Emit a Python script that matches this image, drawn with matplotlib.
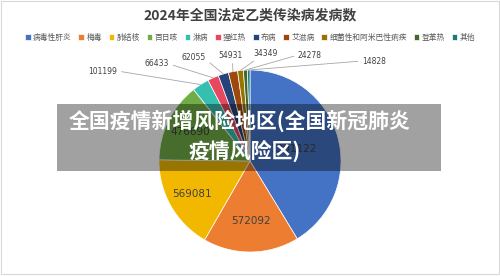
import matplotlib
matplotlib.use("Agg")
import matplotlib.pyplot as plt
import numpy as np
from matplotlib.patches import Rectangle

plt.rcParams['font.family'] = ['Noto Sans CJK SC', 'DejaVu Sans']

# donnees
categories = ['病毒性肝炎', '梅毒', '肺结核', '百日咳', '淋病', '猩红热', '布病', '艾滋病',
              '细菌性和阿米巴性痢疾', '登革热', '其他']
valeurs = [1391122, 572092, 569081, 476690, 101199, 66433, 62055, 54931, 34349, 24278, 14828]
couleurs = ['#4472C4', '#ED7D31', '#F2B800', '#70AD47', '#36BFB1', '#E8485F', '#264478',
            '#9E480E', '#997300', '#43682B', '#1E7A72']
titre = '2024年全国法定乙类传染病发病数'
bandeau_1 = '全国疫情新增风险地区(全国新冠肺炎'
bandeau_2 = '疫情风险区)'

# mise en page des etiquettes (pixels de l'image, origine en haut a gauche)
rayon_int = [0.50, 0.66, 0.73, 0.73]
pos_ext = [(103, 71), (157, 64), (194, 57), (230, 55), (266, 53), (310, 55), (374, 61)]
rel_ext = [(1, 0.5), (1, 0.5), (1, 0.2), (0.6, 0), (0.2, 0), (0, 0.5), (0, 0.5)]

W, H = 500, 276
fig = plt.figure(figsize=(W / 100, H / 100), dpi=100)
fig.patch.set_facecolor('white')
fig.patches.append(Rectangle((0.002, 0.008), 0.996, 0.99, transform=fig.transFigure,
                             fill=False, edgecolor='#d9d9d9', lw=0.8))

cx, cy, r = 250, 161, 91
ax = fig.add_axes([(cx - r) / W, (H - cy - r) / H, 2 * r / W, 2 * r / H])
wedges, _ = ax.pie(valeurs, colors=couleurs, startangle=90, counterclock=False, radius=1,
                   wedgeprops=dict(edgecolor='white', linewidth=0.5))
ax.set_xlim(-1, 1)
ax.set_ylim(-1, 1)
ax.set_aspect('auto')
ax.axis('off')

total = float(sum(valeurs))
cumul = np.cumsum([0] + valeurs)
milieux = [(cumul[i] + valeurs[i] / 2) / total * 2 * np.pi for i in range(len(valeurs))]

n_int = len(rayon_int)
for i in range(n_int):
    a = milieux[i]
    ax.text(rayon_int[i] * np.sin(a), rayon_int[i] * np.cos(a), str(valeurs[i]),
            ha='center', va='center', fontsize=7.5, color='#404040', family='DejaVu Sans')

for k, i in enumerate(range(n_int, len(valeurs))):
    a = milieux[i]
    px, py = pos_ext[k]
    ax.annotate(str(valeurs[i]), xy=(np.sin(a), np.cos(a)), xycoords='data',
                xytext=(px / W, 1 - py / H), textcoords='figure fraction',
                ha='center', va='center', fontsize=5.5, color='#404040', family='DejaVu Sans',
                arrowprops=dict(arrowstyle='-', color='#a6a6a6', lw=0.6,
                                shrinkA=1, shrinkB=0, relpos=rel_ext[k]))

fig.text(0.5, 1 - 15 / H, titre, ha='center', va='center', fontsize=10,
         fontweight='bold', color='#404040')

fig.legend(wedges, categories, loc='center', bbox_to_anchor=(0.5, 1 - 38 / H), ncol=11,
           frameon=False, fontsize=5.6, handlelength=0.75, handleheight=0.75,
           handletextpad=0.3, columnspacing=0.85, labelcolor='#595959', borderpad=0)

fig.patches.append(Rectangle((57 / W, 1 - 171 / H), (441 - 57) / W, (171 - 104) / H,
                             transform=fig.transFigure, facecolor='black', alpha=0.37,
                             edgecolor='none', zorder=5))
fig.text(240 / W, 1 - 121 / H, bandeau_1, ha='center', va='center', fontsize=15,
         fontweight='bold', color='white', zorder=6)
fig.text(245 / W, 1 - 151 / H, bandeau_2, ha='center', va='center', fontsize=15,
         fontweight='bold', color='white', zorder=6)

fig.savefig('out.png', dpi=100)
